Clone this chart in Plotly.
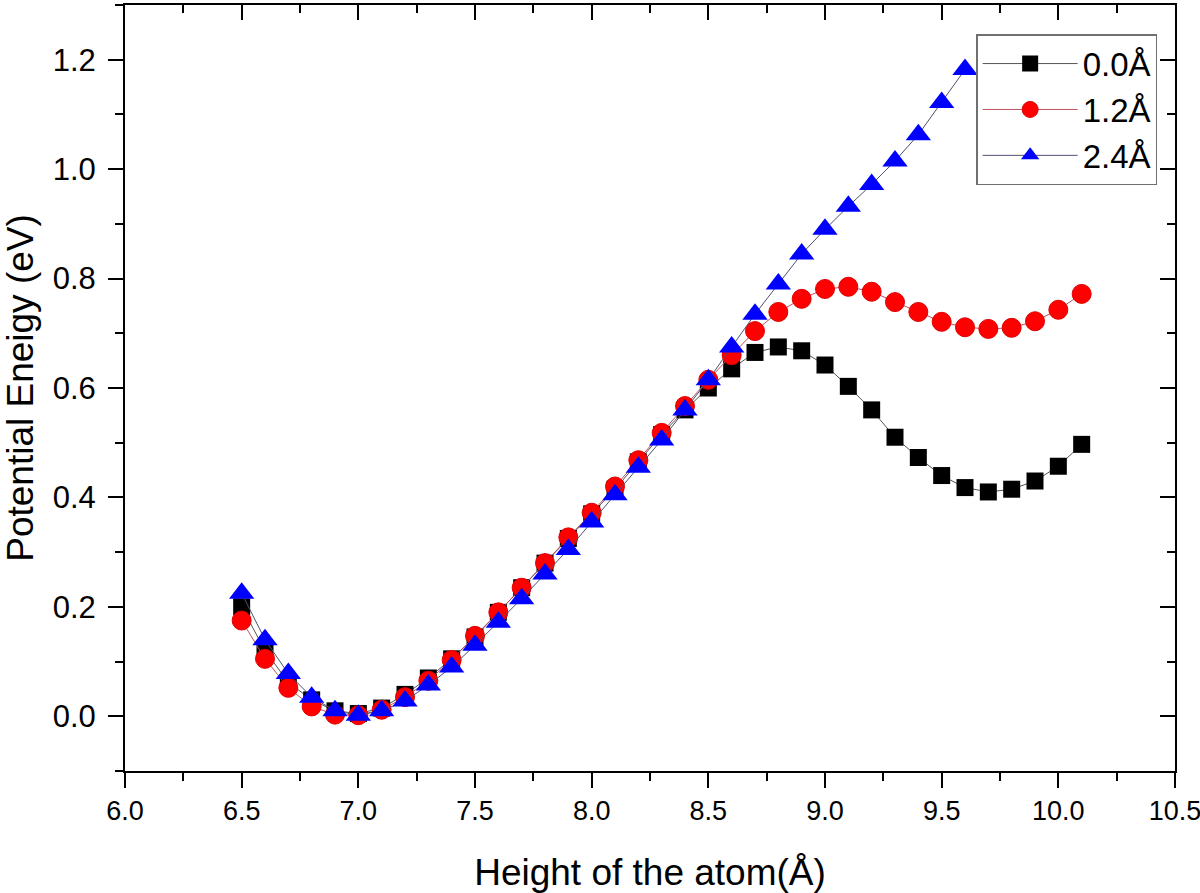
import plotly.graph_objects as go

heights = [6.5, 6.6, 6.7, 6.8, 6.9, 7.0, 7.1, 7.2, 7.3, 7.4, 7.5, 7.6, 7.7, 7.8, 7.9,
           8.0, 8.1, 8.2, 8.3, 8.4, 8.5, 8.6, 8.7, 8.8, 8.9, 9.0, 9.1, 9.2, 9.3, 9.4,
           9.5, 9.6, 9.7, 9.8, 9.9, 10.0, 10.1]

energy_00 = [0.200, 0.120, 0.062, 0.030, 0.010, 0.005, 0.015, 0.040, 0.070, 0.105,
             0.145, 0.190, 0.235, 0.280, 0.325, 0.370, 0.415, 0.465, 0.515, 0.560,
             0.600, 0.635, 0.665, 0.675, 0.668, 0.642, 0.603, 0.560, 0.510, 0.473,
             0.440, 0.418, 0.410, 0.415, 0.430, 0.457, 0.497]

energy_12 = [0.175, 0.105, 0.052, 0.018, 0.003, 0.002, 0.012, 0.035, 0.065, 0.103,
             0.147, 0.190, 0.235, 0.280, 0.327, 0.372, 0.420, 0.468, 0.518, 0.567,
             0.615, 0.660, 0.704, 0.739, 0.763, 0.781, 0.785, 0.776, 0.757, 0.739,
             0.721, 0.711, 0.708, 0.710, 0.722, 0.743, 0.772]

heights_24 = heights[:32]
energy_24 = [0.225, 0.140, 0.078, 0.035, 0.010, 0.002, 0.010, 0.028, 0.057, 0.090,
             0.130, 0.172, 0.215, 0.260, 0.305, 0.355, 0.405, 0.455, 0.505, 0.560,
             0.615, 0.675, 0.735, 0.790, 0.845, 0.890, 0.932, 0.972, 1.015, 1.063,
             1.122, 1.182]

series_names = ["0.0Å", "1.2Å", "2.4Å"]

FONT = "Arial, Liberation Sans, Helvetica, sans-serif"

fig = go.Figure()
fig.add_trace(go.Scatter(
    x=heights, y=energy_00, name=series_names[0], mode="lines+markers",
    line=dict(color="#555555", width=1),
    marker=dict(symbol="square", size=17, color="#000000", line=dict(width=0))))
fig.add_trace(go.Scatter(
    x=heights, y=energy_12, name=series_names[1], mode="lines+markers",
    line=dict(color="#c05060", width=1),
    marker=dict(symbol="circle", size=19, color="#ff0000", line=dict(width=1, color="#e00000"))))
fig.add_trace(go.Scatter(
    x=heights_24, y=energy_24, name=series_names[2], mode="lines+markers",
    line=dict(color="#505070", width=1),
    marker=dict(symbol="triangle-up", size=22, color="#0000ff", line=dict(width=0))))
# invisible helper trace for the mirrored (inside-tick) axes
fig.add_trace(go.Scatter(x=[6.0], y=[-0.1], xaxis="x2", yaxis="y2", mode="markers",
                         marker=dict(opacity=0), showlegend=False, hoverinfo="skip"))

xr = [6.0, 10.5]
yr = [-0.1, 1.3]

fig.update_layout(
    width=1200, height=893,
    paper_bgcolor="white", plot_bgcolor="white",
    margin=dict(l=125, r=25, t=5, b=122),
    font=dict(family=FONT, color="black"),
    xaxis=dict(range=xr, showgrid=False, zeroline=False, automargin=False,
               showline=True, linecolor="black", linewidth=2, mirror=True,
               ticks="outside", ticklen=15, tickwidth=2, tickcolor="black",
               tick0=6.0, dtick=0.5, tickformat=".1f", ticklabeloverflow="allow",
               minor=dict(ticks="outside", ticklen=8, tickwidth=2, tickcolor="black", dtick=0.25, showgrid=False),
               tickfont=dict(size=27, family=FONT),
               title=dict(text="Height of the atom(Å)", font=dict(size=37, family=FONT), standoff=36)),
    yaxis=dict(range=yr, showgrid=False, zeroline=False, automargin=False,
               showline=True, linecolor="black", linewidth=2, mirror=True,
               ticks="outside", ticklen=15, tickwidth=2, tickcolor="black",
               tick0=0.0, dtick=0.2, tickformat=".1f", ticklabelstandoff=6,
               minor=dict(ticks="outside", ticklen=8, tickwidth=2, tickcolor="black", dtick=0.1, showgrid=False),
               tickfont=dict(size=31, family=FONT),
               title=dict(text="Potential Eneigy (eV)", font=dict(size=37, family=FONT), standoff=12)),
    xaxis2=dict(range=xr, overlaying="x", side="top", anchor="y", showgrid=False, zeroline=False,
                automargin=False, showticklabels=False, ticks="inside", ticklen=15, tickwidth=2,
                tickcolor="black", tick0=6.0, dtick=0.5,
                minor=dict(ticks="inside", ticklen=8, tickwidth=2, tickcolor="black", dtick=0.25, showgrid=False)),
    yaxis2=dict(range=yr, overlaying="y", side="right", anchor="x", showgrid=False, zeroline=False,
                automargin=False, showticklabels=False, ticks="inside", ticklen=15, tickwidth=2,
                tickcolor="black", tick0=0.0, dtick=0.2,
                minor=dict(ticks="inside", ticklen=8, tickwidth=2, tickcolor="black", dtick=0.1, showgrid=False)),
    legend=dict(x=0.983, y=0.962, xanchor="right", yanchor="top",
                bgcolor="white", bordercolor="#707070", borderwidth=1.5,
                font=dict(size=33, family=FONT, color="black"),
                tracegroupgap=0, itemsizing="trace", itemwidth=95),
    showlegend=True,
)

fig.write_html("out.html",
               config={"displayModeBar": False},
               post_script="document.body.style.margin='0';document.body.style.padding='0';")
